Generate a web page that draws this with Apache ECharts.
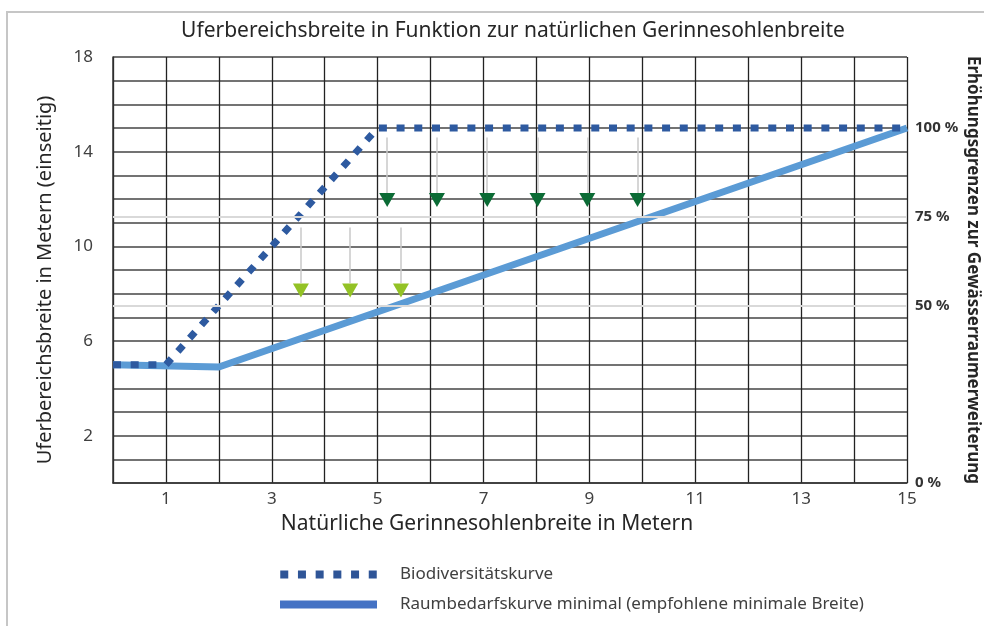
<!DOCTYPE html>
<html>
<head>
<meta charset="utf-8">
<script src="https://cdn.jsdelivr.net/npm/echarts@6/dist/echarts.min.js"></script>
<style>
  html, body { margin: 0; padding: 0; background: #fff; }
  #main { width: 984px; height: 626px; }
</style>
</head>
<body>
<div id="main"></div>
<script>
// Kurven
var bioX = [0, 1, 5, 15];
var bioY = [5, 5, 15, 15];
var raumX = [0, 2, 15];
var raumY = [5, 4.9, 15];

// Pfeile (dunkelgruen / hellgruen)
var darkArrowX = [5.18, 6.12, 7.07, 8.02, 8.96, 9.91];
var darkArrowY = 11.96;
var darkArrowTop = 14.6;
var darkArrowEnd = 12.25;
var lightArrowX = [3.55, 4.48, 5.44];
var lightArrowY = 8.13;
var lightArrowTop = 10.8;
var lightArrowEnd = 8.45;

// Achsen
var xTickLabels = [1, 3, 5, 7, 9, 11, 13, 15];
var yTickLabels = [2, 6, 10, 14, 18];
var rightTickLabels = [0, 50, 75, 100];
var refLines = [75, 50];

var FONT = 'Noto Sans';
var chart = echarts.init(document.getElementById('main'));

function pairs(xs, ys) {
    return xs.map(function (x, i) { return [x, ys[i]]; });
}

function arrowLines(xs, top, end) {
    return xs.map(function (x) {
        return [{coord: [x, top]}, {coord: [x, end]}];
    });
}

var option = {
    backgroundColor: '#fff',
    animation: false,
    title: {
        text: 'Uferbereichsbreite in Funktion zur natürlichen Gerinnesohlenbreite',
        left: 508, top: 16, textAlign: 'center',
        textStyle: {fontFamily: FONT, fontSize: 21, fontWeight: 'normal', color: '#262626'}
    },
    grid: {left: 113, right: 77, top: 57, bottom: 143},
    legend: {
        orient: 'vertical', left: 275, top: 561, itemGap: 13,
        itemWidth: 97, itemHeight: 8,
        textStyle: {fontFamily: FONT, fontSize: 17, color: '#404040', padding: [0, 0, 0, 18]},
        data: [
            {name: 'Biodiversitätskurve',
             icon: 'path://M0,0h8v8h-8z M17.7,0h8v8h-8z M35.4,0h8v8h-8z M53.1,0h8v8h-8z M70.8,0h8v8h-8z M88.5,0h8v8h-8z',
             itemStyle: {color: '#2f5597'}},
            {name: 'Raumbedarfskurve minimal (empfohlene minimale Breite)',
             icon: 'rect', itemStyle: {color: '#4472c4'}}
        ]
    },
    xAxis: {
        type: 'value', min: 0, max: 15, interval: 1,
        axisLine: {lineStyle: {color: '#333', width: 1.5}},
        axisTick: {show: false},
        axisLabel: {
            margin: 8, fontFamily: FONT, fontSize: 17, color: '#404040',
            formatter: function (v) { return xTickLabels.indexOf(v) >= 0 ? String(v) : ''; }
        },
        splitLine: {lineStyle: {color: '#222', width: 1.3}}
    },
    yAxis: [{
        type: 'value', min: 0, max: 18, interval: 1,
        axisLine: {show: true, lineStyle: {color: '#333', width: 1.5}},
        axisTick: {show: false},
        axisLabel: {
            margin: 20, fontFamily: FONT, fontSize: 17, color: '#404040',
            formatter: function (v) { return yTickLabels.indexOf(v) >= 0 ? String(v) : ''; }
        },
        splitLine: {lineStyle: {color: '#444', width: 1.5}}
    }, {
        type: 'value', min: 0, max: 120, interval: 25, position: 'right',
        axisLine: {show: false}, axisTick: {show: false}, splitLine: {show: false},
        axisLabel: {
            margin: 8, fontFamily: FONT, fontSize: 15, fontWeight: 'bold', color: '#333',
            formatter: function (v) { return rightTickLabels.indexOf(v) >= 0 ? v + ' %' : ''; }
        }
    }],
    graphic: [
        {type: 'rect', shape: {x: 7, y: 12, width: 1100, height: 800},
         style: {fill: null, stroke: '#c6c6c6', lineWidth: 2}, z: -1},
        {type: 'text', x: 487, y: 524,
         style: {text: 'Natürliche Gerinnesohlenbreite in Metern', fontFamily: FONT, fontSize: 21,
                 fill: '#262626', align: 'center', verticalAlign: 'middle'}},
        {type: 'text', x: 45, y: 280, rotation: Math.PI / 2,
         style: {text: 'Uferbereichsbreite in Metern (einseitig)', fontFamily: FONT, fontSize: 20,
                 fill: '#262626', align: 'center', verticalAlign: 'middle'}},
        {type: 'text', x: 973, y: 270, rotation: -Math.PI / 2,
         style: {text: 'Erhöhungsgrenzen zur Gewässerraumerweiterung', fontFamily: FONT, fontSize: 17,
                 fontWeight: 'bold', fill: '#262626', align: 'center', verticalAlign: 'middle'}}
    ],
    series: [{
        // graue Referenzlinien 75 % / 50 %
        type: 'line', yAxisIndex: 1, data: [], silent: true,
        markLine: {
            symbol: 'none', silent: true, label: {show: false},
            lineStyle: {color: '#d9d9d9', width: 2, type: 'solid'},
            data: refLines.map(function (v) { return {yAxis: v}; })
        }
    }, {
        // graue Pfeilschaefte
        type: 'line', data: [], silent: true,
        markLine: {
            symbol: 'none', silent: true, label: {show: false},
            lineStyle: {color: '#c8c8c8', width: 1.5, type: 'solid'},
            data: arrowLines(darkArrowX, darkArrowTop, darkArrowEnd)
                .concat(arrowLines(lightArrowX, lightArrowTop, lightArrowEnd))
        }
    }, {
        name: 'Raumbedarfskurve minimal (empfohlene minimale Breite)',
        type: 'line', data: pairs(raumX, raumY), showSymbol: false,
        color: '#4472c4',
        lineStyle: {color: '#5b9bd5', width: 7, cap: 'butt'}, z: 3
    }, {
        name: 'Biodiversitätskurve',
        type: 'line', data: pairs(bioX, bioY), showSymbol: false,
        color: '#2f5597',
        lineStyle: {color: '#2e5aa0', width: 7, type: [8, 9.7], cap: 'butt'}, z: 4
    }, {
        type: 'scatter', data: darkArrowX.map(function (x) { return [x, darkArrowY]; }),
        symbol: 'triangle', symbolRotate: 180, symbolSize: [16, 14],
        itemStyle: {color: '#0b6b35', opacity: 1}, z: 5
    }, {
        type: 'scatter', data: lightArrowX.map(function (x) { return [x, lightArrowY]; }),
        symbol: 'triangle', symbolRotate: 180, symbolSize: [16, 14],
        itemStyle: {color: '#93c225', opacity: 1}, z: 5
    }]
};
chart.setOption(option);
</script>
</body>
</html>
